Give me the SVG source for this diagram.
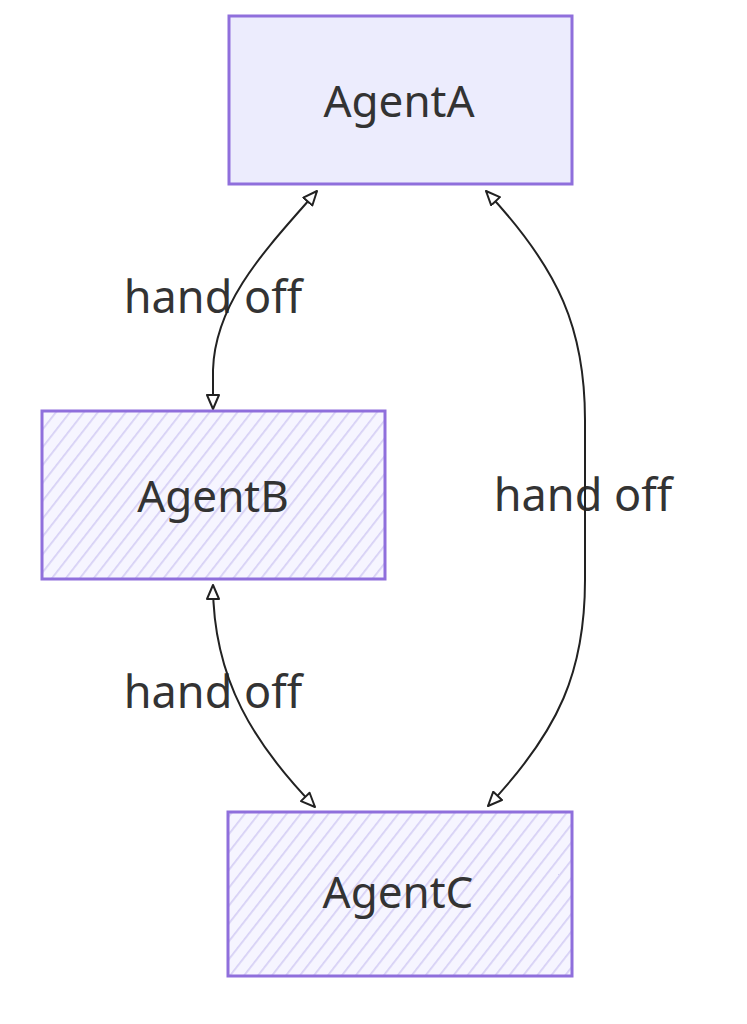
<svg xmlns="http://www.w3.org/2000/svg" width="747" height="1024" viewBox="0 0 747 1024">
  <style>
    .box { stroke: #8f6fdc; stroke-width: 3; }
    .solid { fill: #ececfd; }
    .hatch { fill: url(#hachure); }
    .ntext { font-family: "Noto Sans", "Open Sans", sans-serif; font-size: 44px; fill: #333333; text-anchor: middle; }
    .ltext { font-family: "Noto Sans", "Open Sans", sans-serif; font-size: 45px; fill: #333333; text-anchor: middle; }
    .edge { fill: none; stroke: #222222; stroke-width: 2; marker-start: url(#arr); marker-end: url(#arr); }
  </style>
  <defs>
    <pattern id="hachure" patternUnits="userSpaceOnUse" width="11" height="11" patternTransform="rotate(38)">
      <rect width="11" height="11" fill="#f6f5ff"/>
      <line x1="0" y1="0" x2="0" y2="11" stroke="#d6d0f5" stroke-width="3.5"/>
    </pattern>
    <marker id="arr" viewBox="0 0 16 14" refX="15" refY="7" markerWidth="16" markerHeight="14" markerUnits="userSpaceOnUse" orient="auto-start-reverse">
      <path d="M1,1 L15,7 L1,13 Z" fill="#ffffff" stroke="#222222" stroke-width="2" stroke-linejoin="round"/>
    </marker>
  </defs>
  <rect width="747" height="1024" fill="#ffffff"/>

  <g id="labels">
    <text class="ltext" x="213" y="313">hand off</text>
    <text class="ltext" x="583" y="511">hand off</text>
    <text class="ltext" x="213" y="708">hand off</text>
  </g>

  <g id="connectors">
    <path id="edge-A-B" class="edge" d="M317,191 C 270,245 215,300 213,370 L213,409"/>
    <path id="edge-A-C" class="edge" d="M486,191 C 560,270 585,330 585,420 L585,580 C 585,670 560,730 488,806"/>
    <path id="edge-B-C" class="edge" d="M213,585 C 213,680 255,745 315,807"/>
  </g>

  <g id="AgentA">
    <rect class="box solid" x="229" y="16" width="343" height="168"/>
    <text class="ntext" x="399" y="117">AgentA</text>
  </g>
  <g id="AgentB">
    <rect class="box hatch" x="42" y="411" width="343" height="168"/>
    <text class="ntext" x="213" y="512">AgentB</text>
  </g>
  <g id="AgentC">
    <rect class="box hatch" x="228" y="812" width="344" height="164"/>
    <text class="ntext" x="398" y="908">AgentC</text>
  </g>
</svg>
